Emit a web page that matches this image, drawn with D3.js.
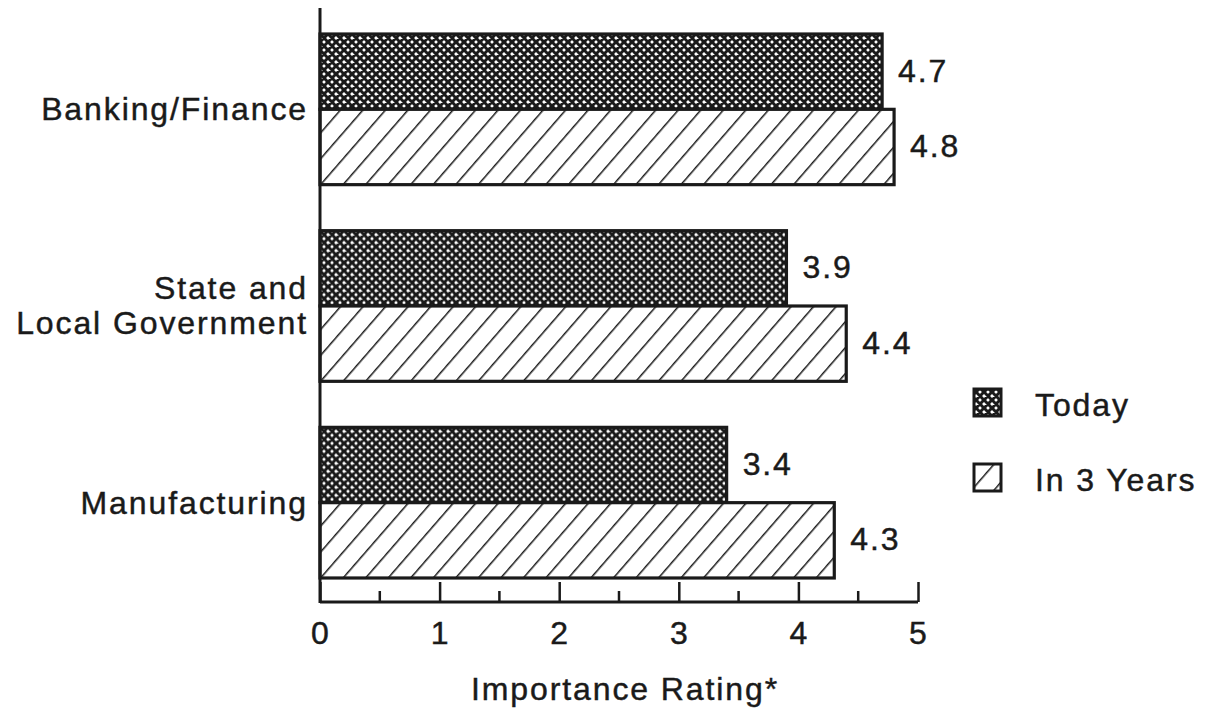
<!DOCTYPE html>
<html>
<head>
<meta charset="utf-8">
<script src="https://cdn.jsdelivr.net/npm/d3@7"></script>
<style>
  html, body { margin: 0; padding: 0; background: #fff; }
  text { font-family: "Liberation Sans", Arial, Helvetica, sans-serif; fill: #1a1a1a; stroke: #1a1a1a; stroke-width: 0.45px; }
</style>
</head>
<body>
<svg id="chart" width="1205" height="712"></svg>
<script>
const categories = ["Banking/Finance", "State and\nLocal Government", "Manufacturing"];
const seriesNames = ["Today", "In 3 Years"];
const todayValues = [4.7, 3.9, 3.4];
const in3YearsValues = [4.8, 4.4, 4.3];
const tickValues = [0, 1, 2, 3, 4, 5];
const minorTickValues = [0.5, 1.5, 2.5, 3.5, 4.5];
const axisTitle = "Importance Rating*";

const svg = d3.select("#chart");
const defs = svg.append("defs");

// crosshatch pattern
const ch = defs.append("pattern").attr("id", "cross").attr("patternUnits", "userSpaceOnUse")
  .attr("width", 8).attr("height", 8);
ch.append("rect").attr("width", 8).attr("height", 8).attr("fill", "#fff");
ch.append("path").attr("d", "M-2,2 L2,-2 M0,8 L8,0 M6,10 L10,6 M-2,6 L2,10 M0,0 L8,8 M6,-2 L10,2")
  .attr("stroke", "#1a1a1a").attr("stroke-width", 3);

// diagonal hatch pattern
const hatch = defs.append("pattern").attr("id", "hatch").attr("patternUnits", "userSpaceOnUse")
  .attr("width", 17).attr("height", 17).attr("patternTransform", "rotate(41)");
hatch.append("rect").attr("width", 17).attr("height", 17).attr("fill", "#fff");
hatch.append("line").attr("x1", 0).attr("y1", 0).attr("x2", 0).attr("y2", 17)
  .attr("stroke", "#1a1a1a").attr("stroke-width", 3);

const fills = ["url(#cross)", "url(#hatch)"];

const x = d3.scaleLinear().domain([0, 5]).range([320, 918]);
const y = d3.scaleBand().domain(categories).range([11, 601]).paddingInner(0.234).paddingOuter(0.117);
const ySub = d3.scaleBand().domain(seriesNames).range([0, y.bandwidth()]);

const data = categories.map((c, i) => ({ cat: c, vals: [todayValues[i], in3YearsValues[i]] }));

const fontSize = 32, ls = 1.9;

// bars
const groups = svg.append("g").selectAll("g").data(data).join("g")
  .attr("transform", d => `translate(0,${y(d.cat)})`);

groups.selectAll("rect").data(d => d.vals.map((v, j) => ({ v, s: seriesNames[j], j })))
  .join("rect")
  .attr("x", x(0))
  .attr("y", d => ySub(d.s))
  .attr("width", d => x(d.v) - x(0))
  .attr("height", ySub.bandwidth())
  .attr("fill", d => fills[d.j])
  .attr("stroke", "#1a1a1a").attr("stroke-width", 3.2);

groups.selectAll("text.val").data(d => d.vals.map((v, j) => ({ v, s: seriesNames[j] })))
  .join("text").attr("class", "val")
  .attr("x", d => x(d.v) + 16)
  .attr("y", d => ySub(d.s) + ySub.bandwidth() / 2 + 10)
  .attr("font-size", fontSize).attr("letter-spacing", ls)
  .text(d => d.v.toFixed(1));

// category labels
groups.each(function(d) {
  const lines = d.cat.split("\n");
  const g = d3.select(this);
  const mid = y.bandwidth() / 2;
  const lh = 35;
  lines.forEach((ln, k) => {
    g.append("text")
      .attr("x", 308)
      .attr("y", mid + 11 + (k - (lines.length - 1) / 2) * lh)
      .attr("text-anchor", "end")
      .attr("font-size", fontSize).attr("letter-spacing", ls)
      .text(ln);
  });
});

// vertical axis line
svg.append("line").attr("x1", x(0)).attr("x2", x(0)).attr("y1", 8).attr("y2", 603)
  .attr("stroke", "#1a1a1a").attr("stroke-width", 3);

// bottom axis: baseline with upward ticks
const axisY = 602;
const axG = svg.append("g").attr("transform", `translate(0,${axisY})`);
const axis = d3.axisTop(x).tickValues(tickValues).tickSize(20).tickFormat("");
axG.call(axis);
axG.select(".domain").remove();
axG.selectAll(".tick line").attr("stroke", "#1a1a1a").attr("stroke-width", 2.5);
axG.append("line").attr("x1", x(0)).attr("x2", x(5)).attr("y1", 0).attr("y2", 0)
  .attr("stroke", "#1a1a1a").attr("stroke-width", 3);
axG.selectAll("line.minor").data(minorTickValues).join("line").attr("class", "minor")
  .attr("x1", d => x(d)).attr("x2", d => x(d)).attr("y1", 0).attr("y2", -11)
  .attr("stroke", "#1a1a1a").attr("stroke-width", 2.5);
axG.selectAll("text.tl").data(tickValues).join("text").attr("class", "tl")
  .attr("x", d => x(d)).attr("y", 42)
  .attr("text-anchor", "middle")
  .attr("font-size", fontSize)
  .text(d => d);

svg.append("text").attr("x", 625).attr("y", 700).attr("text-anchor", "middle")
  .attr("font-size", fontSize).attr("letter-spacing", ls).text(axisTitle);

// legend
const leg = svg.append("g");
const legY = [389, 464];
seriesNames.forEach((s, i) => {
  leg.append("rect").attr("x", 974).attr("y", legY[i]).attr("width", 27).attr("height", 27)
    .attr("fill", fills[i]).attr("stroke", "#1a1a1a").attr("stroke-width", 3);
  leg.append("text").attr("x", 1035).attr("y", legY[i] + 27)
    .attr("font-size", fontSize).attr("letter-spacing", ls).text(s);
});
</script>
</body>
</html>
